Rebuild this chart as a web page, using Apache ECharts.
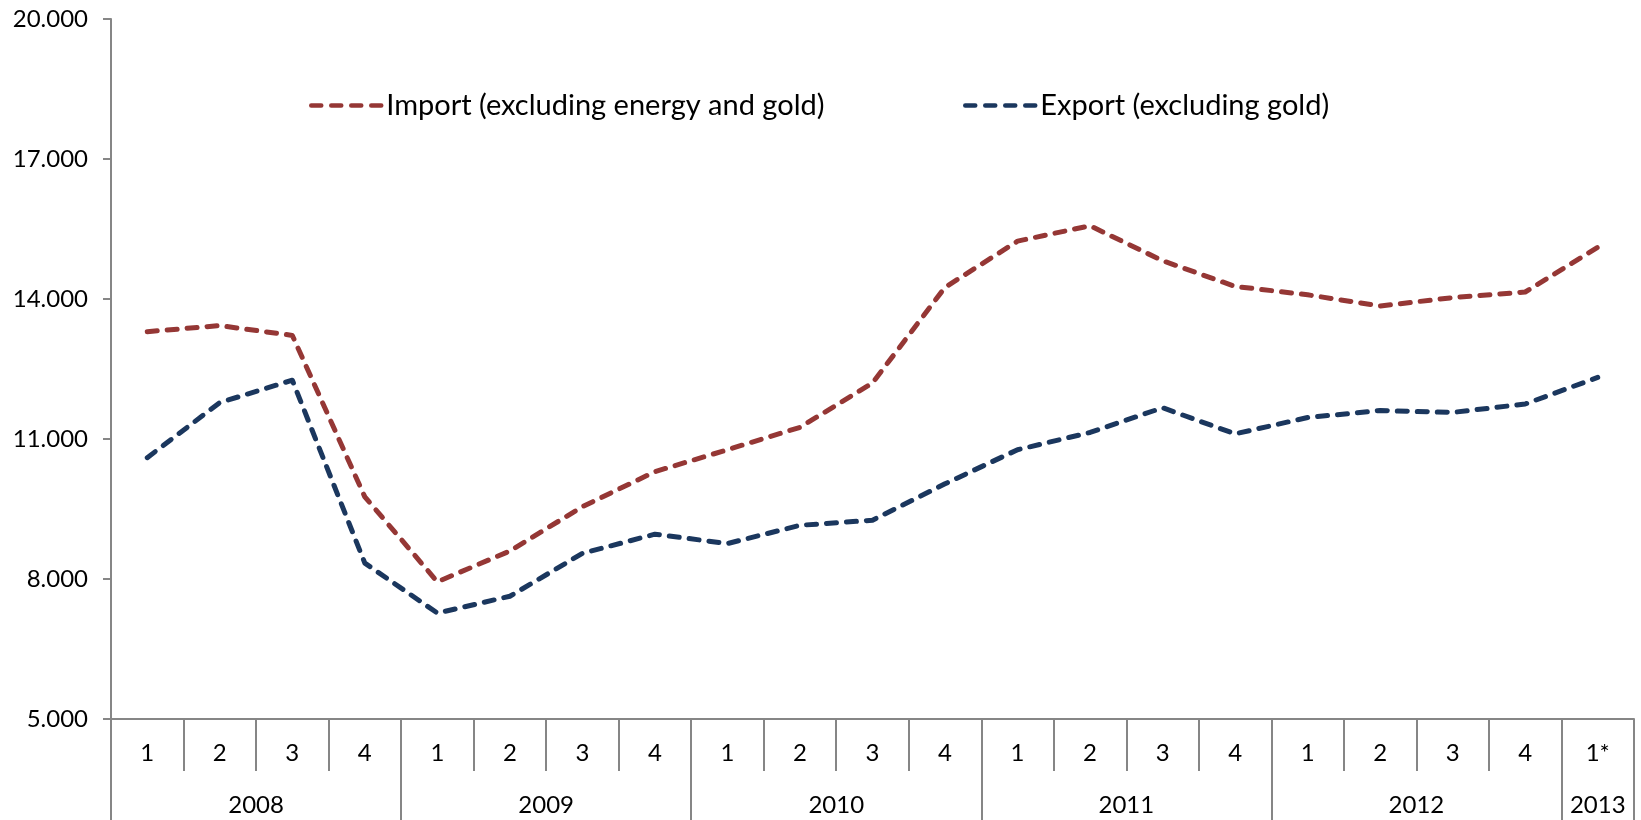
<!DOCTYPE html>
<html>
<head>
<meta charset="utf-8">
<script src="https://cdn.jsdelivr.net/npm/echarts@6/dist/echarts.min.js"></script>
<style>
html,body{margin:0;padding:0;background:#fff}
#main{width:1641px;height:820px}
</style>
</head>
<body>
<div id="main"></div>
<script>
// data (quarterly, 2008 Q1 - 2013 Q1)
var quarters = ["1","2","3","4","1","2","3","4","1","2","3","4","1","2","3","4","1","2","3","4","1*"];
var years = ["2008","2009","2010","2011","2012","2013"];
var quartersPerYear = [4,4,4,4,4,1];
var importData = [13300,13430,13220,9760,7940,8600,9550,10300,10770,11250,12200,14250,15240,15570,14820,14270,14090,13850,14030,14150,15110];
var exportData = [10600,11780,12260,8340,7270,7630,8550,8960,8760,9150,9260,10040,10770,11140,11670,11110,11460,11610,11570,11750,12320];
var importName = "Import (excluding energy and gold)";
var exportName = "Export (excluding gold)";

//year group edges + centers on the 0..21 scale
var yearEdges = [0], yearMids = [];
quartersPerYear.forEach(function(n,i){
  yearMids.push(yearEdges[i] + n/2);
  yearEdges.push(yearEdges[i] + n);
});

var font = "Lato";
var axisGray = "#868686";
var importColor = "#953735";
var exportColor = "#1b375e";
var dash = [10,10];

function legendFor(name, left) {
  return {
    data: [name], left: left, top: 86,
    itemWidth: 70, itemHeight: 14, itemGap: 8,
    itemStyle: {opacity: 0},
    lineStyle: {width: 4.5, type: dash, cap: "round"},
    textStyle: {fontFamily: font, fontSize: 29, color: "#000"}
  };
}

var myChart = echarts.init(document.getElementById("main"));
var option = {
  backgroundColor: "#fff",
  animation: false,
  textStyle: {fontFamily: font, color: "#000"},
  grid: {left: 111, right: 7, top: 19, bottom: 101},
  legend: [legendFor(importName, 304), legendFor(exportName, 958)],
  xAxis: [
    {
      type: "category",
      data: quarters,
      boundaryGap: true,
      axisLine: {show: true, lineStyle: {color: axisGray, width: 2}},
      axisTick: {show: true, interval: 0, length: 52, lineStyle: {color: axisGray, width: 2}},
      axisLabel: {interval: 0, margin: 22, fontSize: 24, color: "#000", fontFamily: font},
      splitLine: {show: false}
    },
    {
      type: "value",
      position: "bottom",
      min: 0,
      max: quarters.length,
      axisLine: {show: false},
      axisTick: {show: true, customValues: yearEdges, length: 101, lineStyle: {color: axisGray, width: 2}},
      axisLabel: {
        customValues: yearMids, margin: 74, fontSize: 24, color: "#000", fontFamily: font,
        formatter: function(v){ var i = yearMids.indexOf(v); return i >= 0 ? years[i] : ""; }
      },
      splitLine: {show: false}
    }
  ],
  yAxis: {
    type: "value",
    min: 5000,
    max: 20000,
    interval: 3000,
    axisLine: {show: true, lineStyle: {color: axisGray, width: 2}},
    axisTick: {show: true, length: 8, lineStyle: {color: axisGray, width: 2}},
    axisLabel: {
      margin: 23, fontSize: 24, color: "#000", fontFamily: font,
      formatter: function(v){ return (v/1000).toFixed(3); }
    },
    splitLine: {show: false}
  },
  series: [
    {
      name: importName,
      type: "line",
      data: importData,
      symbol: "none",
      itemStyle: {color: importColor},
      lineStyle: {color: importColor, width: 5, type: dash, cap: "round", join: "round"}
    },
    {
      name: exportName,
      type: "line",
      data: exportData,
      symbol: "none",
      itemStyle: {color: exportColor},
      lineStyle: {color: exportColor, width: 5, type: dash, cap: "round", join: "round"}
    }
  ]
};
if (option && typeof option === "object") {
  myChart.setOption(option);
}
</script>
</body>
</html>
